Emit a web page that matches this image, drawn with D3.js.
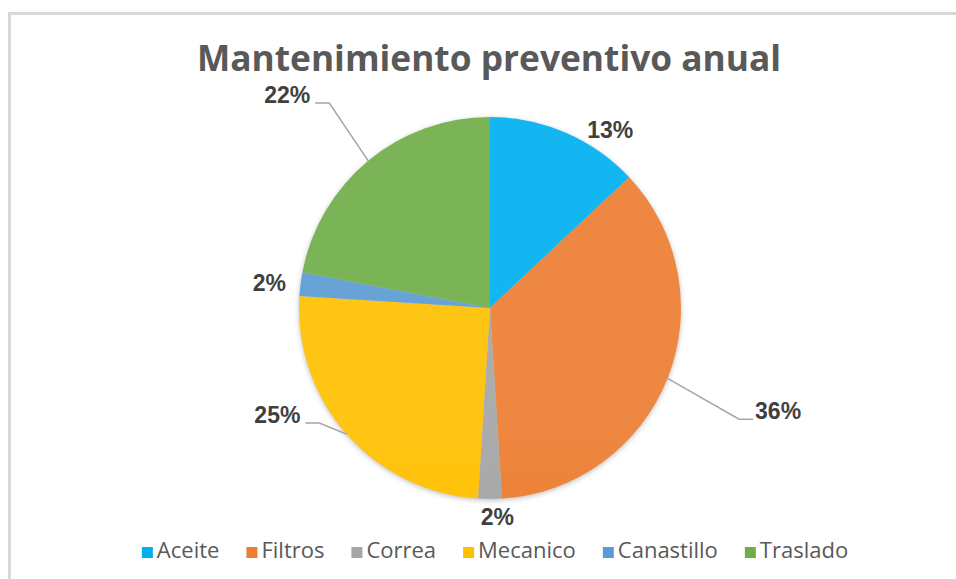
<!DOCTYPE html>
<html>
<head>
<meta charset="utf-8">
<script src="https://cdn.jsdelivr.net/npm/d3@7"></script>
<style>
  body { margin: 0; background: #fff; }
  svg { display: block; }
</style>
</head>
<body>
<div id="chart"></div>
<script>
let width = 956,
    height = 579;

// data
const categories = ["Aceite", "Filtros", "Correa", "Mecanico", "Canastillo", "Traslado"];
const shares = [13, 36, 2, 25, 2, 22];
const colorRange = ["#00b0f0", "#ed7d31", "#a5a5a5", "#ffc000", "#5b9bd5", "#70ad47"];

// label placement (angle in degrees from 12 o'clock, distance from centre)
const labelAngle = [34, 109.7, 178, 243.3, 276.5, 316.4];
const labelDist = [215, 306, 209, 238, 222, 294];
const hasLeader = [false, true, false, true, false, true];

const cx = 490, cy = 308, radius = 191;

const svg = d3.select("#chart")
  .append("svg")
  .attr("width", width)
  .attr("height", height);

// frame
svg.append("rect")
  .attr("x", 9.5).attr("y", 13.5)
  .attr("width", 980).attr("height", 620)
  .attr("fill", "#fff")
  .attr("stroke", "#d9d9d9")
  .attr("stroke-width", 3);

const defs = svg.append("defs");

let shadow = defs.append("filter").attr("id", "shadow")
  .attr("color-interpolation-filters", "sRGB")
  .attr("x", "-20%").attr("y", "-20%").attr("width", "140%").attr("height", "140%");
shadow.append("feDropShadow")
  .attr("dx", 0).attr("dy", 1.5).attr("stdDeviation", 2.5)
  .attr("flood-color", "#000").attr("flood-opacity", 0.25);

let color = d3.scaleOrdinal().domain(categories).range(colorRange);

// soft vertical gradient like the office chart
categories.forEach((c, i) => {
  let base = d3.color(color(c));
  let g = defs.append("linearGradient")
    .attr("id", "grad" + i)
    .attr("gradientUnits", "userSpaceOnUse")
    .attr("x1", 0).attr("y1", cy - radius)
    .attr("x2", 0).attr("y2", cy + radius);
  g.append("stop").attr("offset", "0%").attr("stop-color", d3.interpolateRgb(base, "#fff")(0.08));
  g.append("stop").attr("offset", "40%").attr("stop-color", base);
  g.append("stop").attr("offset", "100%").attr("stop-color", base.darker(0.3));
});

// title
svg.append("text")
  .attr("x", 489)
  .attr("y", 71)
  .attr("text-anchor", "middle")
  .style("font-family", "'Open Sans', sans-serif")
  .style("font-weight", 700)
  .style("font-size", "35.3px")
  .attr("fill", "#595959")
  .text("Mantenimiento preventivo anual");

let pie = d3.pie().sort(null).value(d => d.value);
let arcs = pie(categories.map((c, i) => ({ name: c, value: shares[i], i: i })));

let arc = d3.arc().innerRadius(0).outerRadius(radius);

let g = svg.append("g")
  .attr("transform", `translate(${cx},${cy})`);

g.append("g")
  .attr("filter", "url(#shadow)")
  .selectAll("path")
  .data(arcs)
  .join("path")
  .attr("d", arc)
  .attr("fill", d => `url(#grad${d.data.i})`);

// labels
const toXY = (deg, r) => {
  let a = deg * Math.PI / 180;
  return [r * Math.sin(a), -r * Math.cos(a)];
};

arcs.forEach((d, i) => {
  let [lx, ly] = toXY(labelAngle[i], labelDist[i]);
  let t = g.append("text")
    .attr("x", lx)
    .attr("y", ly)
    .attr("text-anchor", "middle")
    .attr("dominant-baseline", "central")
    .style("font-family", "'Liberation Sans', Arial, sans-serif")
    .style("font-weight", 700)
    .style("font-size", "23px")
    .attr("fill", "#404040")
    .text(Math.round(d.value) + "%");

  if (hasLeader[i]) {
    let w = t.node().getComputedTextLength();
    let mid = (d.startAngle + d.endAngle) / 2;
    let p0 = [radius * Math.sin(mid), -radius * Math.cos(mid)];
    let right = lx > 0;
    let yl = ly + 8;
    let xEnd = right ? lx - w / 2 - 2 : lx + w / 2 + 5;
    let xElb = right ? xEnd - 14 : xEnd + 14;
    g.append("polyline")
      .attr("points", [p0, [xElb, yl], [xEnd, yl]].map(p => p.join(",")).join(" "))
      .attr("fill", "none")
      .attr("stroke", "#a6a6a6")
      .attr("stroke-width", 1.5);
  }
});

// legend
let legend = svg.append("g");
let xPos = 0;
categories.forEach((c, i) => {
  let item = legend.append("g").attr("transform", `translate(${xPos},0)`);
  item.append("rect")
    .attr("x", 0).attr("y", 547)
    .attr("width", 11).attr("height", 11)
    .attr("fill", color(c));
  let t = item.append("text")
    .attr("x", 15)
    .attr("y", 558)
    .style("font-family", "'Open Sans', sans-serif")
    .style("font-size", "22px")
    .attr("fill", "#595959")
    .text(c);
  xPos += 15 + t.node().getComputedTextLength() + 27;
});
let legendW = xPos - 27;
legend.attr("transform", `translate(${495 - legendW / 2},0)`);
</script>
</body>
</html>
